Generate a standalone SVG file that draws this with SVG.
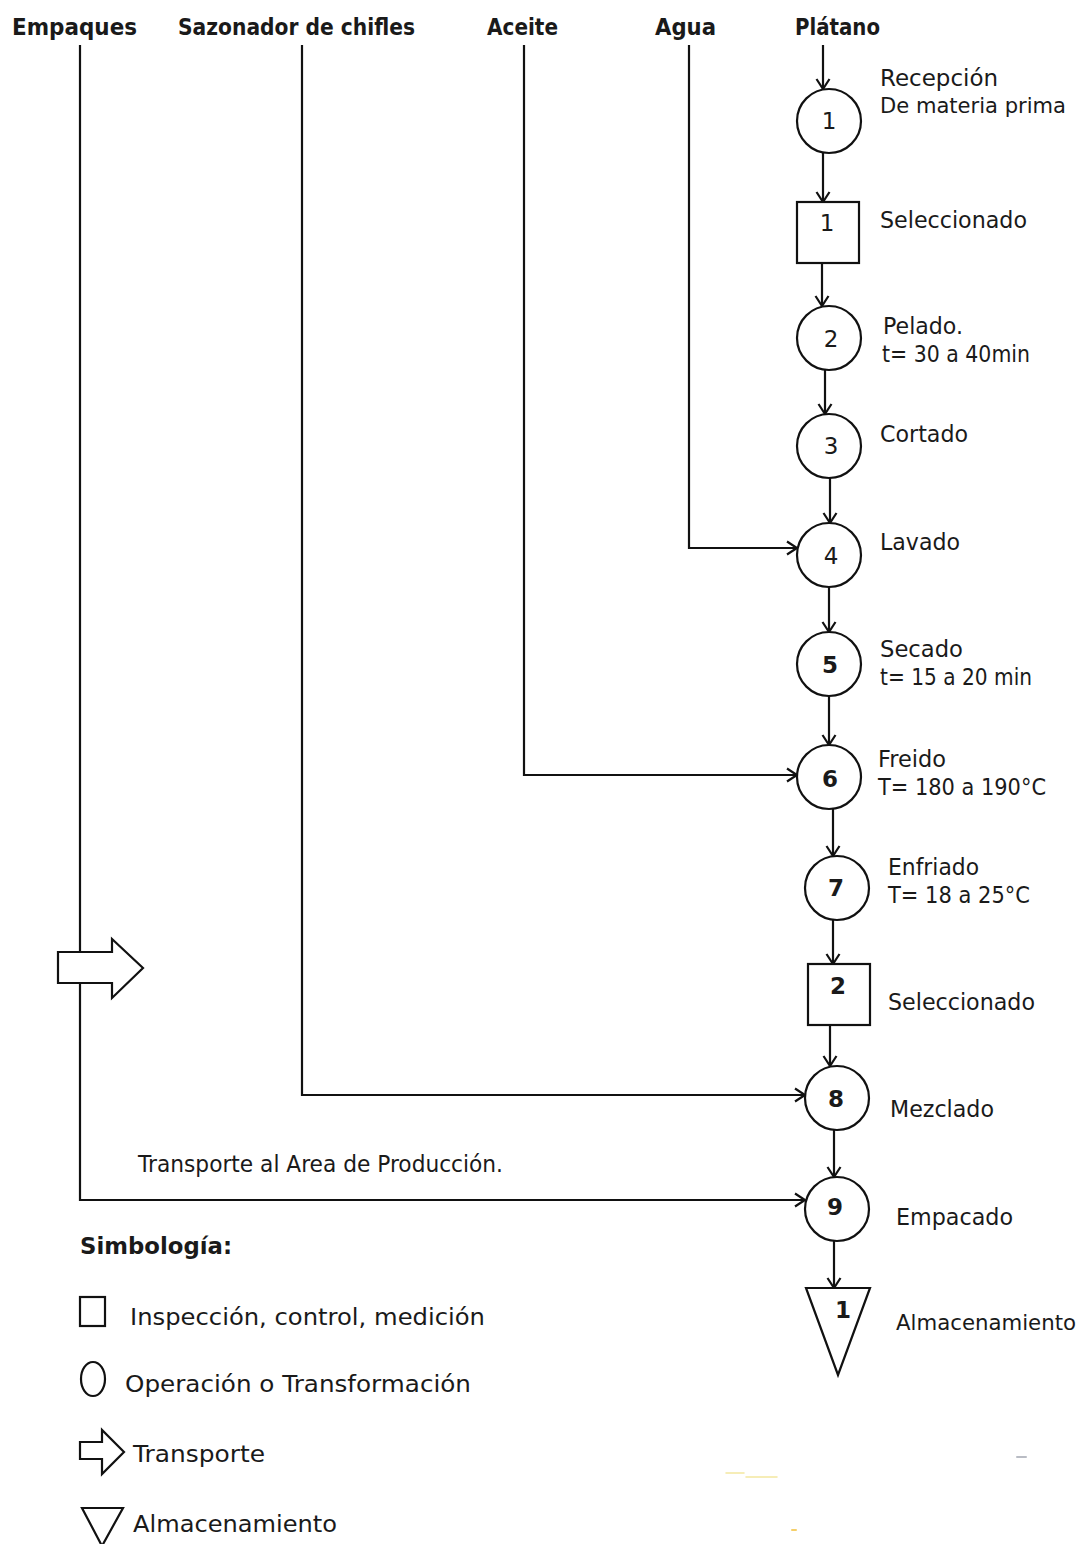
<svg xmlns="http://www.w3.org/2000/svg" width="1082" height="1544" viewBox="0 0 1082 1544">
  <defs>
    <style>
      .shape { fill: #fff; stroke: #111; stroke-width: 2.2; }
      .line { fill: none; stroke: #111; stroke-width: 2.2; }
      .head { font-family: "DejaVu Sans", "Liberation Sans", sans-serif; font-weight: bold; font-size: 23px; fill: #1a1a1a; }
      .lbl { font-family: "DejaVu Sans", "Liberation Sans", sans-serif; font-size: 23.5px; fill: #1a1a1a; }
      .tight { font-size: 21px; }
      .num { font-family: "DejaVu Sans", "Liberation Sans", sans-serif; font-size: 23px; fill: #1a1a1a; text-anchor: middle; }
      .numb { font-weight: bold; }
    </style>
    <marker id="arr" markerUnits="userSpaceOnUse" markerWidth="16" markerHeight="16" refX="12" refY="7" orient="auto" overflow="visible">
      <path d="M2,0.5 L12,7 L2,13.5" fill="none" stroke="#111" stroke-width="2.2"/>
    </marker>
  </defs>
  <rect width="1082" height="1544" fill="#fff"/>

  <!-- column headings -->
  <g id="headings">
    <text class="head" x="12" y="35" textLength="125" lengthAdjust="spacingAndGlyphs">Empaques</text>
    <text class="head" x="178" y="35" textLength="237" lengthAdjust="spacingAndGlyphs">Sazonador de chifles</text>
    <text class="head" x="487" y="35" textLength="71" lengthAdjust="spacingAndGlyphs">Aceite</text>
    <text class="head" x="655" y="35" textLength="61" lengthAdjust="spacingAndGlyphs">Agua</text>
    <text class="head" x="795" y="35" textLength="85" lengthAdjust="spacingAndGlyphs">Plátano</text>
  </g>

  <!-- connectors -->
  <g id="connectors">
    <path class="line" marker-end="url(#arr)" d="M823,45 V89"/>
    <path class="line" marker-end="url(#arr)" d="M823,153 V202"/>
    <path class="line" marker-end="url(#arr)" d="M822,263 V306"/>
    <path class="line" marker-end="url(#arr)" d="M825,370 V414"/>
    <path class="line" marker-end="url(#arr)" d="M830,478 V523"/>
    <path class="line" marker-end="url(#arr)" d="M829,587 V632"/>
    <path class="line" marker-end="url(#arr)" d="M829,696 V745"/>
    <path class="line" marker-end="url(#arr)" d="M833,809 V856"/>
    <path class="line" marker-end="url(#arr)" d="M833,920 V964"/>
    <path class="line" marker-end="url(#arr)" d="M830,1025 V1066"/>
    <path class="line" marker-end="url(#arr)" d="M834,1130 V1177"/>
    <path class="line" marker-end="url(#arr)" d="M834,1241 V1288"/>
    <path class="line" marker-end="url(#arr)" d="M689,45 V548 H797"/>
    <path class="line" marker-end="url(#arr)" d="M524,45 V775 H797"/>
    <path class="line" marker-end="url(#arr)" d="M302,45 V1095 H805"/>
    <path class="line" marker-end="url(#arr)" d="M80,45 V1200 H805"/>
  </g>

  <!-- transport of packaging to production -->
  <g id="transport-empaques">
    <polygon class="shape" points="58,952 112,952 112,939 143,968 112,998 112,983 58,983"/>
    <text class="lbl" x="138" y="1172" textLength="365" lengthAdjust="spacingAndGlyphs">Transporte al Area de Producción.</text>
  </g>

  <!-- process steps -->
  <g id="op1">
    <circle class="shape" cx="829" cy="121" r="32"/>
    <text class="num" x="829" y="129">1</text>
    <text class="lbl" x="880" y="86" textLength="118" lengthAdjust="spacingAndGlyphs">Recepción</text>
    <text class="lbl tight" x="880" y="113" textLength="186" lengthAdjust="spacingAndGlyphs">De materia prima</text>
  </g>
  <g id="insp1">
    <rect class="shape" x="797" y="202" width="62" height="61"/>
    <text class="num" x="827" y="231">1</text>
    <text class="lbl" x="880" y="228" textLength="147" lengthAdjust="spacingAndGlyphs">Seleccionado</text>
  </g>
  <g id="op2">
    <circle class="shape" cx="829" cy="338" r="32"/>
    <text class="num" x="831" y="347">2</text>
    <text class="lbl" x="883" y="334" textLength="80" lengthAdjust="spacingAndGlyphs">Pelado.</text>
    <text class="lbl" x="882" y="362" textLength="148" lengthAdjust="spacingAndGlyphs">t= 30 a 40min</text>
  </g>
  <g id="op3">
    <circle class="shape" cx="829" cy="446" r="32"/>
    <text class="num" x="831" y="454">3</text>
    <text class="lbl" x="880" y="442" textLength="88" lengthAdjust="spacingAndGlyphs">Cortado</text>
  </g>
  <g id="op4">
    <circle class="shape" cx="829" cy="555" r="32"/>
    <text class="num" x="831" y="564">4</text>
    <text class="lbl" x="880" y="550" textLength="80" lengthAdjust="spacingAndGlyphs">Lavado</text>
  </g>
  <g id="op5">
    <circle class="shape" cx="829" cy="664" r="32"/>
    <text class="num numb" x="830" y="673">5</text>
    <text class="lbl" x="880" y="657" textLength="83" lengthAdjust="spacingAndGlyphs">Secado</text>
    <text class="lbl" x="880" y="685" textLength="152" lengthAdjust="spacingAndGlyphs">t= 15 a 20 min</text>
  </g>
  <g id="op6">
    <circle class="shape" cx="829" cy="777" r="32"/>
    <text class="num numb" x="830" y="787">6</text>
    <text class="lbl" x="878" y="767" textLength="68" lengthAdjust="spacingAndGlyphs">Freido</text>
    <text class="lbl" x="878" y="795" textLength="168" lengthAdjust="spacingAndGlyphs">T= 180 a 190°C</text>
  </g>
  <g id="op7">
    <circle class="shape" cx="837" cy="888" r="32"/>
    <text class="num numb" x="836" y="896">7</text>
    <text class="lbl" x="888" y="875" textLength="91" lengthAdjust="spacingAndGlyphs">Enfriado</text>
    <text class="lbl" x="888" y="903" textLength="142" lengthAdjust="spacingAndGlyphs">T= 18 a 25°C</text>
  </g>
  <g id="insp2">
    <rect class="shape" x="808" y="964" width="62" height="61"/>
    <text class="num numb" x="838" y="994">2</text>
    <text class="lbl" x="888" y="1010" textLength="147" lengthAdjust="spacingAndGlyphs">Seleccionado</text>
  </g>
  <g id="op8">
    <circle class="shape" cx="837" cy="1098" r="32"/>
    <text class="num numb" x="836" y="1107">8</text>
    <text class="lbl" x="890" y="1117" textLength="104" lengthAdjust="spacingAndGlyphs">Mezclado</text>
  </g>
  <g id="op9">
    <circle class="shape" cx="837" cy="1209" r="32"/>
    <text class="num numb" x="835" y="1215">9</text>
    <text class="lbl" x="896" y="1225" textLength="117" lengthAdjust="spacingAndGlyphs">Empacado</text>
  </g>
  <g id="store1">
    <polygon class="shape" points="806,1288 870,1288 838,1375"/>
    <text class="num numb" x="843" y="1318">1</text>
    <text class="lbl tight" x="896" y="1330" textLength="180" lengthAdjust="spacingAndGlyphs">Almacenamiento</text>
  </g>

  <!-- symbol key -->
  <g id="legend">
    <text class="head" x="80" y="1254" textLength="152" lengthAdjust="spacingAndGlyphs">Simbología:</text>
    <rect class="shape" x="80" y="1297" width="25" height="29"/>
    <text class="lbl" x="130" y="1325" textLength="355" lengthAdjust="spacingAndGlyphs">Inspección, control, medición</text>
    <ellipse class="shape" cx="93" cy="1379" rx="12" ry="17"/>
    <text class="lbl" x="125" y="1392" textLength="346" lengthAdjust="spacingAndGlyphs">Operación o Transformación</text>
    <polygon class="shape" points="80,1442 102,1442 102,1430 124,1452 102,1474 102,1459 80,1459"/>
    <text class="lbl" x="133" y="1462" textLength="132" lengthAdjust="spacingAndGlyphs">Transporte</text>
    <polygon class="shape" points="82,1508 123,1508 102,1546"/>
    <text class="lbl" x="133" y="1532" textLength="204" lengthAdjust="spacingAndGlyphs">Almacenamiento</text>
  </g>

  <!-- faint stray marks near the bottom edge -->
  <g id="marks" fill="none" stroke-linecap="round">
    <path d="M726,1473 H744 M746,1477 H777" stroke="#f3e7a0" stroke-width="1.5"/>
    <path d="M1017,1457 H1026" stroke="#b9bcc4" stroke-width="2"/>
    <path d="M792,1530 H796" stroke="#f5cf6a" stroke-width="2"/>
  </g>
</svg>
